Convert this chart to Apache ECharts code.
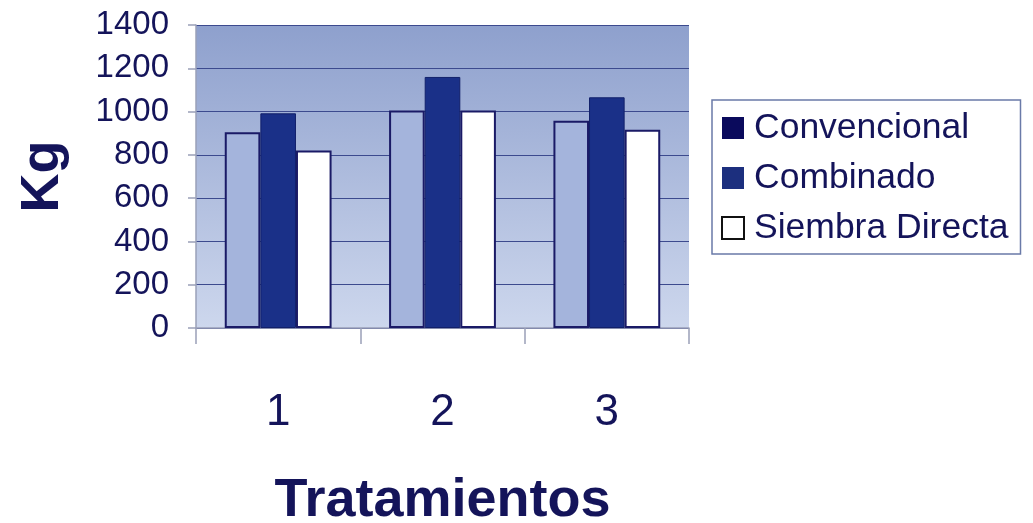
<!DOCTYPE html>
<html>
<head>
<meta charset="utf-8">
<script src="https://cdn.jsdelivr.net/npm/echarts@6/dist/echarts.min.js"></script>
<style>
html,body{margin:0;padding:0;background:#fff;}
#main{width:1033px;height:523px;}
</style>
</head>
<body>
<div id="main"></div>
<script>
// datos
var categorias = ['1', '2', '3'];
var series_nombres = ['Convencional', 'Combinado', 'Siembra Directa'];
var convencional = [905, 1005, 958];
var combinado = [992, 1160, 1066];
var siembraDirecta = [820, 1005, 916];
var ticksY = [0, 200, 400, 600, 800, 1000, 1200, 1400];

var navy = '#14145a';
var fuente = '"Liberation Sans", Arial, sans-serif';

var option = {
    animation: false,
    backgroundColor: '#fff',
    textStyle: {fontFamily: fuente},
    grid: {
        left: 196, right: 344, top: 25, bottom: 195,
        outerBoundsMode: 'none',
        containLabel: false,
        show: true,
        borderWidth: 0,
        backgroundColor: new echarts.graphic.LinearGradient(0, 0, 0, 1, [
            {offset: 0, color: '#8ea0cd'},
            {offset: 1, color: '#cdd7ed'}
        ])
    },
    legend: {
        orient: 'vertical',
        left: 712, top: 100,
        padding: [10, 12, 8, 9],
        itemGap: 14,
        itemWidth: 22, itemHeight: 22,
        backgroundColor: '#fff',
        borderColor: '#6a7aa8',
        borderWidth: 1.5,
        icon: 'rect',
        textStyle: {fontSize: 35.5, lineHeight: 36, color: navy, fontFamily: fuente, padding: [0, 0, 0, 5]},
        data: [
            {name: series_nombres[0], itemStyle: {color: '#0a0a5c', borderWidth: 0}},
            {name: series_nombres[1], itemStyle: {color: '#1c2f7e', borderWidth: 0}},
            {name: series_nombres[2], itemStyle: {color: '#fff', borderColor: '#111', borderWidth: 2}}
        ]
    },
    xAxis: {
        type: 'category',
        data: categorias,
        name: 'Tratamientos',
        nameLocation: 'middle',
        nameGap: 146,
        nameTextStyle: {fontSize: 54, fontWeight: 'bold', color: navy, fontFamily: fuente},
        axisLine: {lineStyle: {color: '#9aa0b8', width: 1.5}},
        axisTick: {show: true, length: 16, lineStyle: {color: '#9aa0b8', width: 1.5}},
        axisLabel: {fontSize: 44, color: navy, margin: 63, fontFamily: fuente}
    },
    yAxis: {
        type: 'value',
        min: ticksY[0], max: ticksY[ticksY.length - 1], interval: 200,
        name: 'Kg',
        nameLocation: 'middle',
        nameGap: 126,
        nameRotate: 90,
        nameTextStyle: {fontSize: 54, fontWeight: 'bold', color: navy, fontFamily: fuente},
        axisLine: {show: true, lineStyle: {color: '#9aa0b8', width: 1.5}},
        axisTick: {show: true, length: 8, lineStyle: {color: '#9aa0b8', width: 1.5}},
        axisLabel: {fontSize: 33, color: navy, margin: 27, fontFamily: fuente,
            formatter: function(v){ return String(v); }},
        splitLine: {lineStyle: {color: '#3c4a8e', width: 1.2}}
    },
    series: [
        {
            name: series_nombres[0], type: 'bar', data: convencional,
            barGap: '0%', barCategoryGap: '35%',
            itemStyle: {color: '#a4b4dc', borderColor: '#1a1a66', borderWidth: 2}
        },
        {
            name: series_nombres[1], type: 'bar', data: combinado,
            itemStyle: {color: '#1a3088', borderColor: '#12206a', borderWidth: 1}
        },
        {
            name: series_nombres[2], type: 'bar', data: siembraDirecta,
            itemStyle: {color: '#ffffff', borderColor: '#1a1a66', borderWidth: 2}
        }
    ]
};
echarts.init(document.getElementById('main')).setOption(option);
</script>
</body>
</html>
